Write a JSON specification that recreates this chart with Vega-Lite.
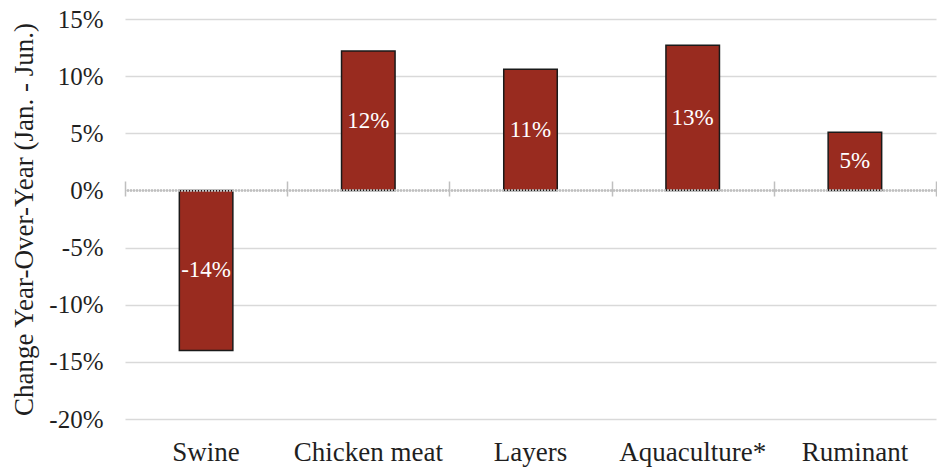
{
  "$schema": "https://vega.github.io/schema/vega-lite/v6.json",
  "width": 811,
  "height": 400,
  "autosize": {"type": "none"},
  "padding": {"left": 125, "top": 19, "right": 1, "bottom": 51},
  "background": "white",
  "config": {
    "locale": {"number": {"decimal": ".", "thousands": ",", "grouping": [3], "currency": ["$", ""], "minus": "-"}},
    "view": {"stroke": null},
    "font": "Liberation Serif",
    "axis": {"labelFont": "Liberation Serif", "titleFont": "Liberation Serif"},
    "text": {"font": "Liberation Serif"}
  },
  "data": {
    "values": [
      {"category": "Swine", "value": -0.140},
      {"category": "Chicken meat", "value": 0.122},
      {"category": "Layers", "value": 0.106},
      {"category": "Aquaculture*", "value": 0.127},
      {"category": "Ruminant", "value": 0.051}
    ]
  },
  "resolve": {"scale": {"y": "independent"}, "axis": {"x": "independent", "y": "independent"}},
  "layer": [
    {
      "mark": {"type": "bar", "fill": "#992B1F", "stroke": "#1a1a1a", "strokeWidth": 1.5, "width": {"band": 0.33}},
      "encoding": {
        "x": {
          "field": "category", "type": "nominal", "sort": null,
          "scale": {"paddingInner": 0, "paddingOuter": 0},
          "axis": {"title": null, "labelAngle": 0, "domain": false, "ticks": false, "labelFontSize": 27, "labelColor": "#1f1f1f", "labelPadding": 20, "labelFont": "Liberation Serif"}
        },
        "y": {
          "field": "value", "type": "quantitative",
          "scale": {"domain": [-0.2, 0.15], "nice": false, "zero": true},
          "axis": {"title": "Change Year-Over-Year (Jan. - Jun.)", "titleFontSize": 27, "titleFontWeight": "normal", "titleColor": "#1f1f1f", "titleFont": "Liberation Serif", "titlePadding": 10, "format": ".0%", "values": [-0.2, -0.15, -0.1, -0.05, 0, 0.05, 0.1, 0.15], "domain": false, "ticks": false, "labelFontSize": 25, "labelColor": "#1f1f1f", "labelPadding": 22, "gridColor": "#d9d9d9", "gridWidth": 1.5, "labelFont": "Liberation Serif"}
        }
      }
    },
    {
      "mark": {"type": "rule", "stroke": "#bfbfbf", "strokeWidth": 1.5, "strokeDash": [2, 1]},
      "encoding": {
        "y": {"datum": 0, "type": "quantitative", "scale": {"domain": [-0.2, 0.15], "nice": false}, "axis": null}
      }
    },
    {
      "mark": {"type": "text", "color": "white", "fontSize": 23, "baseline": "middle", "align": "center", "font": "Liberation Serif"},
      "encoding": {
        "x": {
          "field": "category", "type": "nominal", "sort": null,
          "axis": {"title": null, "labels": false, "domain": false, "orient": "bottom", "offset": -238, "tickBand": "extent", "tickSize": 15, "tickColor": "#bfbfbf", "tickWidth": 1.5}
        },
        "y": {"field": "value", "type": "quantitative", "scale": {"domain": [-0.4, 0.3], "nice": false}, "axis": null},
        "text": {"field": "value", "type": "quantitative", "format": ".0%"}
      }
    }
  ]
}
